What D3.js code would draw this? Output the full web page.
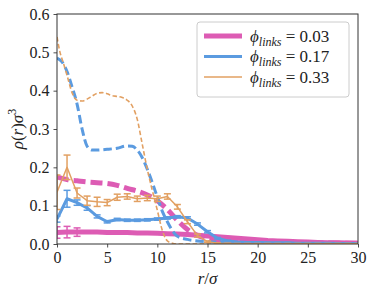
<!DOCTYPE html>
<html>
<head>
<meta charset="utf-8">
<script src="https://cdn.jsdelivr.net/npm/d3@7"></script>
<style>
  body { margin: 0; background: #fff; }
</style>
</head>
<body>
<script>
// sampled points (integer r) for the simulation curves with error bars
var rPoints = d3.range(0, 31);

var pinkMean = [0.030, 0.031, 0.031, 0.031, 0.031, 0.030, 0.030, 0.030, 0.029, 0.029, 0.028,
                0.027, 0.026, 0.025, 0.023, 0.021, 0.019, 0.017, 0.015, 0.013, 0.011,
                0.009, 0.008, 0.007, 0.006, 0.005, 0.004, 0.0035, 0.003, 0.0025, 0.002];
var pinkErr  = [0.015, 0.015, 0.011, 0.003, 0.002, 0.002, 0.002, 0.002, 0.002, 0.002, 0.002,
                0.002, 0.002, 0.002, 0.002, 0.002, 0.002, 0.001, 0.001, 0.001, 0.001,
                0.001, 0.001, 0.001, 0.001, 0.001, 0.001, 0.001, 0.001, 0.001, 0.001];

var blueMean = [0.065, 0.118, 0.108, 0.094, 0.072, 0.058, 0.064, 0.062, 0.062, 0.063, 0.065,
                0.068, 0.071, 0.068, 0.052, 0.032, 0.015, 0.008, 0.005, 0.004, 0.004,
                0.003, 0.003, 0.003, 0.002, 0.002, 0.002, 0.002, 0.001, 0.001, 0.001];
var blueErr  = [0.008, 0.022, 0.007, 0.006, 0.004, 0.003, 0.003, 0.003, 0.003, 0.003, 0.003,
                0.003, 0.003, 0.003, 0.003, 0.003, 0.002, 0.002, 0.001, 0.001, 0.001,
                0.001, 0.001, 0.001, 0.001, 0.001, 0.001, 0.001, 0.001, 0.001, 0.001];

var orangeMean = [0.135, 0.200, 0.133, 0.113, 0.110, 0.108, 0.122, 0.124, 0.118, 0.120, 0.118,
                  0.124, 0.097, 0.058, 0.022, 0.006, 0.002, 0.001, 0.0005, 0.0005, 0.0005,
                  0.0005, 0.0005, 0.0005, 0.0005, 0.0005, 0.0005, 0.0005, 0.0005, 0.0005, 0.0005];
var orangeErr  = [0.045, 0.032, 0.013, 0.012, 0.012, 0.008, 0.008, 0.007, 0.007, 0.007, 0.007,
                  0.007, 0.006, 0.005, 0.004, 0.002, 0.001, 0.001, 0.001, 0.001, 0.001,
                  0.001, 0.001, 0.001, 0.001, 0.001, 0.001, 0.001, 0.001, 0.001, 0.001];

// dashed (theory) curves
var pinkDashR = [0, 1, 2, 3, 4, 5, 6, 7, 8, 9, 10, 11, 12, 13, 14, 15, 16, 18, 20, 25, 30];
var pinkDashY = [0.175, 0.168, 0.165, 0.162, 0.160, 0.158, 0.153, 0.145, 0.138, 0.128, 0.113,
                 0.090, 0.062, 0.038, 0.022, 0.014, 0.010, 0.007, 0.005, 0.003, 0.002];

var blueDashR = [0, 0.5, 1, 1.5, 2, 2.5, 3, 3.5, 4, 5, 6, 7, 7.5, 8, 8.5, 9, 9.5, 10, 10.5,
                 11, 11.5, 12, 13, 14, 15, 17, 20, 25, 30];
var blueDashY = [0.485, 0.475, 0.450, 0.410, 0.365, 0.300, 0.255, 0.245, 0.245, 0.247, 0.250,
                 0.256, 0.255, 0.245, 0.225, 0.195, 0.160, 0.122, 0.085, 0.058, 0.035, 0.020,
                 0.012, 0.008, 0.006, 0.004, 0.002, 0.001, 0.000];

var orangeDashR = [0, 0.3, 0.6, 1, 1.5, 2, 2.5, 3, 3.5, 4, 4.5, 5, 5.5, 6, 6.5, 7, 7.5, 8,
                   8.5, 9, 9.5, 10, 10.5, 11, 11.5, 12, 15, 20, 30];
var orangeDashY = [0.540, 0.500, 0.475, 0.440, 0.395, 0.375, 0.373, 0.378, 0.386, 0.393, 0.395,
                   0.392, 0.387, 0.385, 0.382, 0.375, 0.360, 0.325, 0.260, 0.195, 0.140, 0.088,
                   0.035, 0.008, 0.002, 0.000, 0.000, 0.000, 0.000];

var legendLabels = ["0.03", "0.17", "0.33"];
var xTicks = [0, 5, 10, 15, 20, 25, 30];
var yTicks = [0.0, 0.1, 0.2, 0.3, 0.4, 0.5, 0.6];

var pink = "#dd5cb4", blue = "#5b9be0", orange = "#e2a062";
var serif = "Liberation Serif";

var width = 374, height = 296;
var margin = {top: 14, right: 16, bottom: 52, left: 57};

var svg = d3.select("body").append("svg")
    .attr("width", width)
    .attr("height", height);

var x = d3.scaleLinear().domain([0, 30]).range([margin.left, width - margin.right]);
var y = d3.scaleLinear().domain([0, 0.6]).range([height - margin.bottom, margin.top]);

var plot = svg.append("g");
plot.append("clipPath").attr("id", "clip")
    .append("rect")
    .attr("x", x(0)).attr("y", y(0.6))
    .attr("width", x(30) - x(0)).attr("height", y(0) - y(0.6));

var g = plot.append("g").attr("clip-path", "url(#clip)");

function zip(xs, ys) {
    return xs.map(function(d, i) { return [d, ys[i]]; });
}

var smooth = d3.line().x(function(d) { return x(d[0]); }).y(function(d) { return y(d[1]); })
    .curve(d3.curveMonotoneX);
var straight = d3.line().x(function(d) { return x(d[0]); }).y(function(d) { return y(d[1]); });

function errorSeries(means, errs, color, lw, cap) {
    var pts = zip(rPoints, means);
    g.append("path").datum(pts)
        .attr("d", straight)
        .attr("fill", "none").attr("stroke", color)
        .attr("stroke-width", lw).attr("stroke-linejoin", "round");
    var bars = g.append("g").attr("stroke", color).attr("stroke-width", Math.min(lw, 1.5));
    rPoints.forEach(function(r, i) {
        var lo = means[i] - errs[i], hi = means[i] + errs[i];
        bars.append("line").attr("x1", x(r)).attr("x2", x(r)).attr("y1", y(lo)).attr("y2", y(hi));
        bars.append("line").attr("x1", x(r) - cap).attr("x2", x(r) + cap).attr("y1", y(lo)).attr("y2", y(lo));
        bars.append("line").attr("x1", x(r) - cap).attr("x2", x(r) + cap).attr("y1", y(hi)).attr("y2", y(hi));
    });
}

function dashed(xs, ys, color, lw, dash) {
    g.append("path").datum(zip(xs, ys))
        .attr("d", smooth)
        .attr("fill", "none").attr("stroke", color)
        .attr("stroke-width", lw).attr("stroke-dasharray", dash);
}

errorSeries(pinkMean, pinkErr, pink, 5, 3.5);
dashed(pinkDashR, pinkDashY, pink, 5, "12,5");
errorSeries(blueMean, blueErr, blue, 3, 3.5);
dashed(blueDashR, blueDashY, blue, 3, "8.5,4");
errorSeries(orangeMean, orangeErr, orange, 1.5, 3.5);
dashed(orangeDashR, orangeDashY, orange, 1.6, "4.5,2.5");

// axes
var xAxis = svg.append("g")
    .attr("transform", "translate(0," + y(0) + ")")
    .call(d3.axisBottom(x).tickValues(xTicks).tickSize(3.5).tickPadding(4).tickFormat(d3.format("d")));
var yAxis = svg.append("g")
    .attr("transform", "translate(" + x(0) + ",0)")
    .call(d3.axisLeft(y).tickValues(yTicks).tickSize(3.5).tickPadding(4).tickFormat(d3.format(".1f")));

[xAxis, yAxis].forEach(function(a) {
    a.attr("font-family", serif);
    a.select(".domain").remove();
    a.selectAll("line").attr("stroke", "#222").attr("stroke-width", 0.8);
    a.selectAll("text").attr("font-family", serif).attr("font-size", 16).attr("fill", "#222");
});

svg.append("rect")
    .attr("x", x(0)).attr("y", y(0.6))
    .attr("width", x(30) - x(0)).attr("height", y(0) - y(0.6))
    .attr("fill", "none").attr("stroke", "#333").attr("stroke-width", 1);

// axis labels
var xl = svg.append("text")
    .attr("x", (x(0) + x(30)) / 2).attr("y", 284)
    .attr("font-family", serif).attr("fill", "#222")
    .attr("text-anchor", "middle").attr("font-size", 17).attr("font-style", "italic");
xl.append("tspan").text("r");
xl.append("tspan").attr("font-style", "normal").text("/");
xl.append("tspan").text("σ");

var yl = svg.append("text")
    .attr("transform", "translate(23," + (y(0.3)) + ") rotate(-90)")
    .attr("font-family", serif).attr("fill", "#222")
    .attr("text-anchor", "middle").attr("font-size", 17);
yl.append("tspan").attr("font-style", "italic").text("ρ");
yl.append("tspan").text("(");
yl.append("tspan").attr("font-style", "italic").text("r");
yl.append("tspan").text(")");
yl.append("tspan").attr("font-style", "italic").text("σ");
yl.append("tspan").attr("font-size", 12).attr("dy", -7).text("3");

// legend
var legend = svg.append("g").attr("font-family", serif);
legend.append("rect")
    .attr("x", 197).attr("y", 22).attr("width", 152).attr("height", 75)
    .attr("rx", 3).attr("fill", "#fff").attr("fill-opacity", 0.8)
    .attr("stroke", "#ccc").attr("stroke-width", 1);

var legendColors = [pink, blue, orange];
var legendWidths = [5, 3, 1.5];
legendLabels.forEach(function(lab, i) {
    var ly = 36 + i * 20.5;
    legend.append("line")
        .attr("x1", 204).attr("x2", 242).attr("y1", ly).attr("y2", ly)
        .attr("stroke", legendColors[i]).attr("stroke-width", legendWidths[i]);
    var t = legend.append("text").attr("x", 250).attr("y", ly + 5.5)
        .attr("font-size", 17).attr("fill", "#222");
    t.append("tspan").attr("font-style", "italic").text("ϕ");
    t.append("tspan").attr("font-style", "italic").attr("font-size", 12).attr("dy", 4).text("links");
    t.append("tspan").attr("dy", -4).text(" = " + lab);
});
</script>
</body>
</html>
